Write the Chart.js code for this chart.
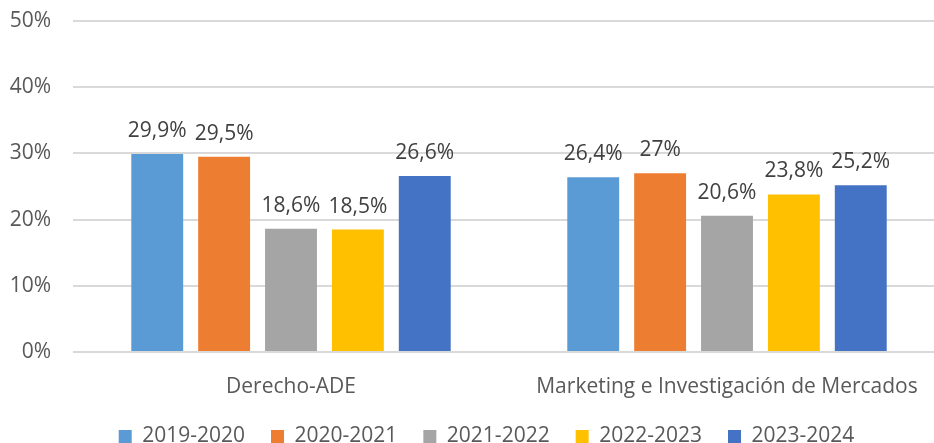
<!DOCTYPE html>
<html>
<head>
<meta charset="utf-8">
<script src="https://cdn.jsdelivr.net/npm/chart.js@4/dist/chart.umd.min.js"></script>
<style>
  html, body { margin: 0; padding: 0; background: #fff; overflow: hidden; }
  #wrap { width: 946px; height: 443px; }
</style>
</head>
<body>
<div id="wrap"><canvas id="chart"></canvas></div>
<script>
// data
const categories = ['Derecho-ADE', 'Marketing e Investigación de Mercados'];
const years = ['2019-2020', '2020-2021', '2021-2022', '2022-2023', '2023-2024'];
const values2019 = [29.9, 26.4];
const values2020 = [29.5, 27];
const values2021 = [18.6, 20.6];
const values2022 = [18.5, 23.8];
const values2023 = [26.6, 25.2];
const yTicks = [0, 10, 20, 30, 40, 50];

const colors = ['#5b9bd5', '#ed7d31', '#a5a5a5', '#ffc000', '#4472c4'];
const seriesValues = [values2019, values2020, values2021, values2022, values2023];

const FONT = "'Open Sans', sans-serif";
const FSIZE = 21;

// draws the value above each bar
const valueLabels = {
    id: 'valueLabels',
    afterDatasetsDraw(chart) {
        const ctx = chart.ctx;
        ctx.save();
        ctx.font = FSIZE + 'px ' + FONT;
        ctx.fillStyle = '#404040';
        ctx.textAlign = 'center';
        ctx.textBaseline = 'middle';
        chart.data.datasets.forEach((ds, i) => {
            const meta = chart.getDatasetMeta(i);
            meta.data.forEach((bar, j) => {
                const txt = String(ds.data[j]).replace('.', ',') + '%';
                ctx.fillText(txt, bar.x, bar.y - 23);
            });
        });
        ctx.restore();
    }
};

// legend row sits a bit right of centre in the original
const legendShift = {
    id: 'legendShift',
    afterLayout(chart) {
        if (chart.legend) {
            chart.legend.left += 14;
            chart.legend.right += 14;
        }
    }
};

new Chart(document.getElementById('chart'), {
    type: 'bar',
    data: {
        labels: categories,
        datasets: years.map((y, i) => ({
            label: y,
            data: seriesValues[i],
            backgroundColor: colors[i],
            barPercentage: 0.776,
            categoryPercentage: 0.767
        }))
    },
    options: {
        responsive: true,
        maintainAspectRatio: false,
        animation: false,
        layout: { padding: { top: 21, bottom: -14, left: 0, right: 1 } },
        plugins: {
            legend: {
                position: 'bottom',
                labels: {
                    boxWidth: 13,
                    boxHeight: 13,
                    padding: 26,
                    color: '#595959',
                    font: { family: FONT, size: FSIZE }
                }
            },
            tooltip: { enabled: false }
        },
        scales: {
            x: {
                grid: { display: false },
                border: { display: false },
                afterFit: s => { s.height = 48; },
                ticks: {
                    color: '#595959',
                    font: { family: FONT, size: FSIZE },
                    padding: 14
                }
            },
            y: {
                min: 0,
                max: 50,
                afterBuildTicks: s => { s.ticks = yTicks.map(v => ({ value: v })); },
                afterFit: s => { s.width = 73; },
                // invisible tick marks give the gap between labels and plot
                grid: { color: '#d9d9d9', lineWidth: 2, drawTicks: true, tickLength: 22, tickColor: 'rgba(0,0,0,0)' },
                border: { display: false },
                ticks: {
                    color: '#595959',
                    font: { family: FONT, size: FSIZE },
                    padding: 0,
                    callback: v => v + '%'
                }
            }
        }
    },
    plugins: [valueLabels, legendShift]
});
</script>
</body>
</html>
